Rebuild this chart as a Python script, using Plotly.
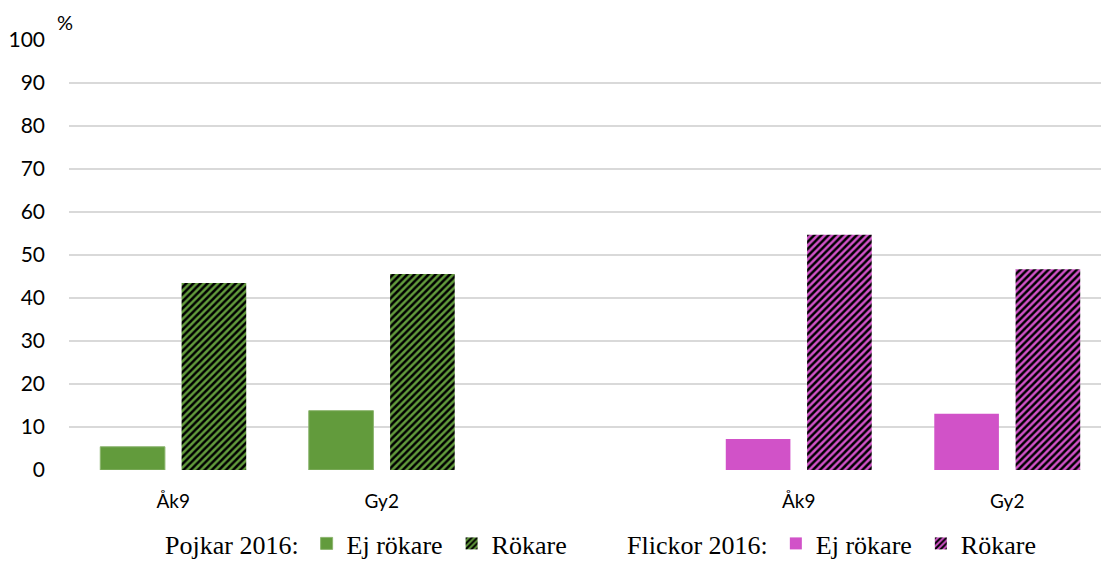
import plotly.graph_objects as go

categories = ["Åk9", "Gy2", "", "Åk9", "Gy2"]
pojkar_ej = [5.4, 13.8, None, None, None]
pojkar_rok = [43.5, 45.6, None, None, None]
flickor_ej = [None, None, None, 7.2, 13.1]
flickor_rok = [None, None, None, 54.7, 46.7]
y_ticks = [0, 10, 20, 30, 40, 50, 60, 70, 80, 90, 100]
series_names = ["Ej rökare", "Rökare"]

GREEN = "#629b3c"
PINK = "#d152c8"
xpos = list(range(len(categories)))
W = 0.31
OFF = 0.195

FW, FH = 1101, 563
SERIF = "Liberation Serif"

fig = go.Figure()
fig.add_trace(go.Bar(x=[p - OFF for p in xpos], y=pojkar_ej, width=W, name=series_names[0],
                     marker=dict(color=GREEN, line=dict(color="#8cb56f", width=1)),
                     legend="legend"))
fig.add_trace(go.Bar(x=[p + OFF for p in xpos], y=pojkar_rok, width=W, name=series_names[1],
                     marker=dict(color=GREEN, line=dict(width=0),
                                 pattern=dict(shape="/", fgcolor="black", bgcolor=GREEN,
                                              size=5, solidity=0.5, fillmode="replace")),
                     legend="legend"))
fig.add_trace(go.Bar(x=[p - OFF for p in xpos], y=flickor_ej, width=W, name=series_names[0],
                     marker=dict(color=PINK, line=dict(width=0)),
                     legend="legend2"))
fig.add_trace(go.Bar(x=[p + OFF for p in xpos], y=flickor_rok, width=W, name=series_names[1],
                     marker=dict(color=PINK, line=dict(width=0),
                                 pattern=dict(shape="/", fgcolor="black", bgcolor=PINK,
                                              size=5, solidity=0.5, fillmode="replace")),
                     legend="legend2"))

legend_font = dict(family=SERIF, size=26, color="#000000")
fig.update_layout(
    width=FW, height=FH,
    margin=dict(l=69, r=0, t=40, b=93, autoexpand=False),
    plot_bgcolor="white", paper_bgcolor="white",
    barmode="overlay",
    font=dict(family="Lato", size=18, color="#000000"),
    xaxis=dict(range=[-0.5, -0.5 + 1032 / 208.5], tickvals=[0, 1, 3, 4],
               ticktext=[categories[i] for i in [0, 1, 3, 4]],
               showgrid=False, zeroline=False, showline=False, ticks="",
               ticklabelstandoff=18, tickfont=dict(family="Lato", size=19)),
    yaxis=dict(range=[0, 100], tickvals=y_ticks, showgrid=True, gridcolor="#d9d9d9",
               gridwidth=1.5, zeroline=False, showline=False, ticks="",
               ticklabelstandoff=23, tickfont=dict(family="Lato", size=21)),
    legend=dict(orientation="h", xref="container", yref="container",
                x=163 / FW, y=43 / FH, xanchor="left", yanchor="top",
                font=dict(legend_font), title=dict(text="Pojkar 2016:", side="left", font=dict(legend_font)),
                bgcolor="rgba(0,0,0,0)", traceorder="normal", entrywidth=100),
    legend2=dict(orientation="h", xref="container", yref="container",
                 x=625 / FW, y=43 / FH, xanchor="left", yanchor="top",
                 font=dict(legend_font), title=dict(text="Flickor 2016:", side="left", font=dict(legend_font)),
                 bgcolor="rgba(0,0,0,0)", traceorder="normal", entrywidth=100),
    annotations=[dict(text="%", xref="paper", yref="paper", x=-14 / 1032, y=1 + 18 / 430,
                      xanchor="left", yanchor="middle", showarrow=False,
                      font=dict(family="Lato", size=20))],
)
fig.write_html("out.html", config={"displayModeBar": False},
               post_script="document.body.style.margin='0';document.body.style.overflow='hidden';")
